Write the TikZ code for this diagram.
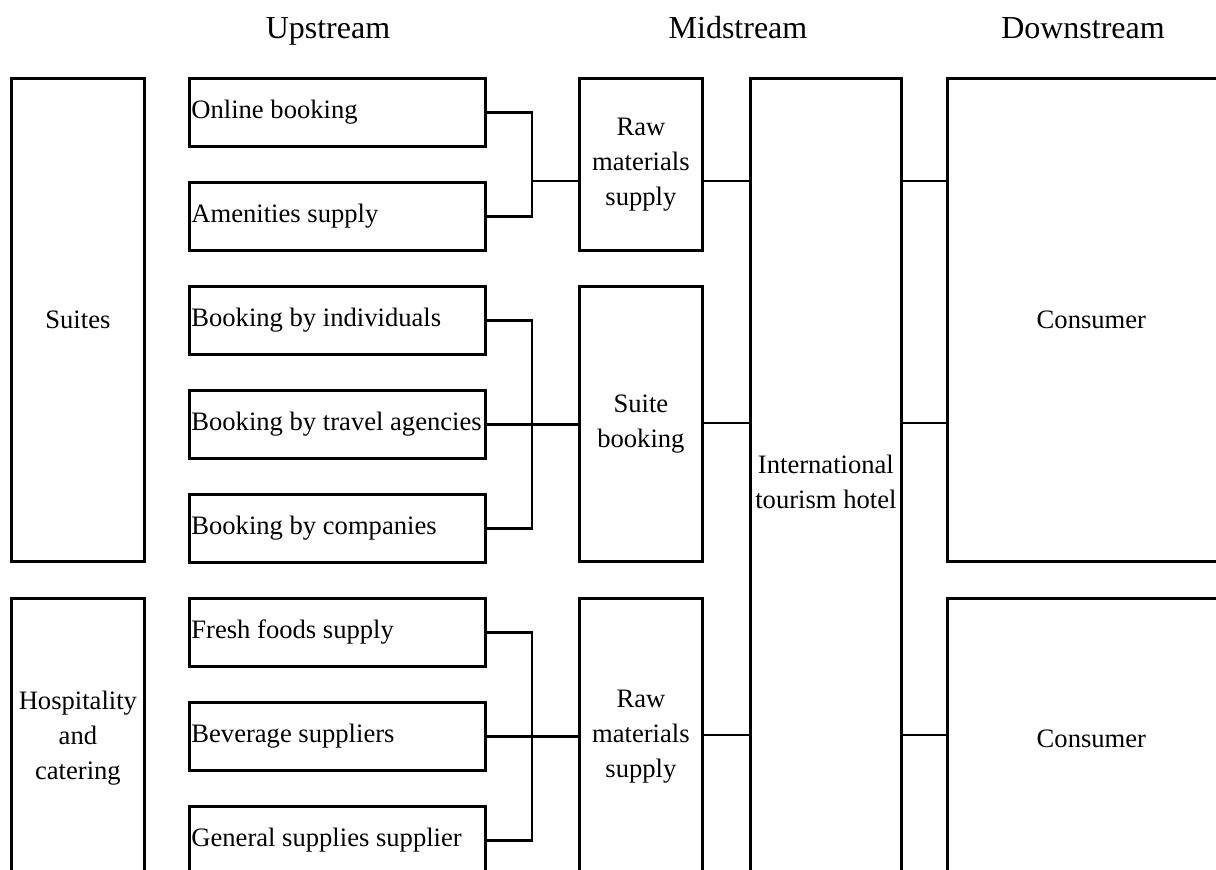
\documentclass[tikz,border=0pt]{standalone}
\usepackage{fontspec}
\setmainfont{Liberation Serif}
\usetikzlibrary{positioning, calc}
\newcommand{\ulabel}[1]{\makebox[146pt][l]{#1}}

\begin{document}
\begin{tikzpicture}[x=0.5pt, y=-0.5pt,
  every node/.style={font=\fontsize{13.3}{17.5}\selectfont},
  B/.style={draw, line width=1.4pt, anchor=north west, inner sep=1pt, align=center},
  U/.style={B, minimum width=148pt, minimum height=34pt, inner xsep=0pt},
  H/.style={font=\fontsize{16}{19}\selectfont, anchor=base},
  W/.style={line width=1.4pt}]
  \useasboundingbox (0,0) rectangle (1216,869);
  \clip (0,0) rectangle (1216,869);
  % headers
  \node[H] (up)   at (328,38)  {Upstream};
  \node[H] (mid)  at (738,38)  {Midstream};
  \node[H] (down) at (1083,38) {Downstream};
  % left column
  \node[B, minimum width=66.5pt, minimum height=241.5pt] (suites) at (10,77) {Suites};
  \node[B, minimum width=66.5pt, minimum height=140pt] (hosp) at (10,597) {Hospitality\\and\\catering};
  % upstream boxes
  \node[U] (online) at (188,77)  {\ulabel{Online booking}};
  \node[U] (amen)   at (188,181) {\ulabel{Amenities supply}};
  \node[U] (indiv)  at (188,285) {\ulabel{Booking by individuals}};
  \node[U] (agency) at (188,389) {\ulabel{Booking by travel agencies}};
  \node[U] (comp)   at (188,493) {\ulabel{Booking by companies}};
  \node[U] (fresh)  at (188,597) {\ulabel{Fresh foods supply}};
  \node[U] (bev)    at (188,701) {\ulabel{Beverage suppliers}};
  \node[U] (gen)    at (188,805) {\ulabel{General supplies supplier}};
  % midstream
  \node[B, minimum width=61.5pt, minimum height=86pt]    (raw1)  at (578,77)  {Raw\\materials\\supply};
  \node[B, minimum width=61.5pt, minimum height=137.5pt] (suite) at (578,285) {Suite\\booking};
  \node[B, minimum width=61.5pt, minimum height=138pt]   (raw2)  at (578,597) {Raw\\materials\\supply};
  \node[B, minimum width=75.5pt, minimum height=403pt]   (hotel) at (749,77)  {International\\tourism hotel};
  % downstream
  \node[B, minimum width=144pt, minimum height=241.5pt] (cons1) at (946,77)  {Consumer};
  \node[B, minimum width=144pt, minimum height=140pt]   (cons2) at (946,597) {Consumer};
  % junctions
  \coordinate (j1) at (532,181);
  \coordinate (j2) at (532,423);
  \coordinate (j3) at (532,735);
  % group 1
  \draw[W] (online.east) -| (j1) |- (amen.east);
  \draw[W] (j1) -- (j1 -| raw1.west);
  \draw[W] (j1 -| raw1.east) -- (j1 -| hotel.west);
  % group 2
  \draw[W] (indiv.east) -| (j2) |- (comp.east);
  \draw[W] (agency.east) -- (agency.east -| suite.west);
  \draw[W] (j2 -| suite.east) -- (j2 -| hotel.west);
  % group 3
  \draw[W] (fresh.east) -| (j3) |- (gen.east);
  \draw[W] (bev.east) -- (bev.east -| raw2.west);
  \draw[W] (j3 -| raw2.east) -- (j3 -| hotel.west);
  % hotel to consumers
  \draw[W] (j1 -| hotel.east) -- (j1 -| cons1.west);
  \draw[W] (j2 -| hotel.east) -- (j2 -| cons1.west);
  \draw[W] (j3 -| hotel.east) -- (j3 -| cons2.west);
\end{tikzpicture}
\end{document}
